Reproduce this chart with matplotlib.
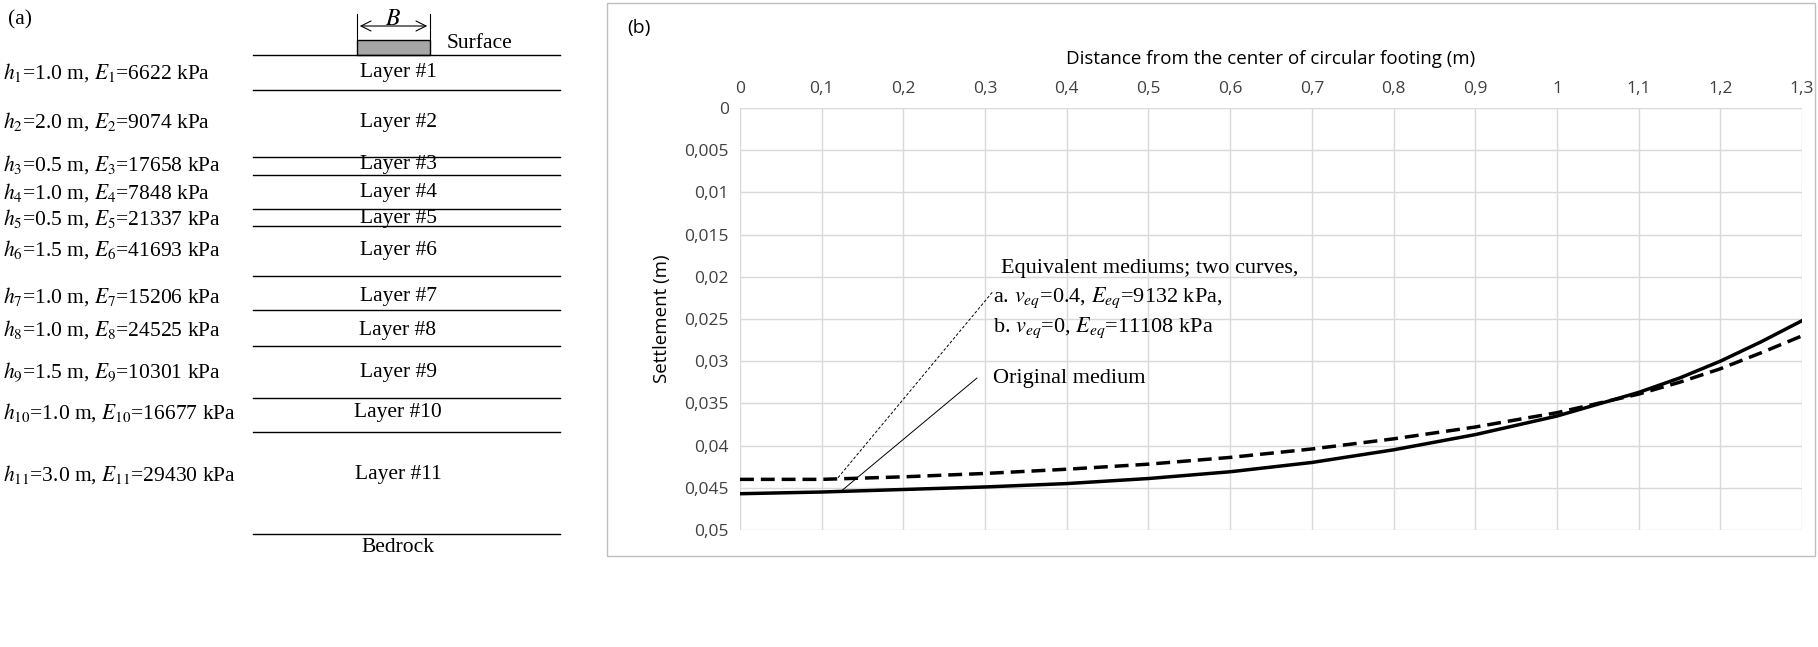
import numpy as np
import matplotlib.pyplot as plt
from matplotlib.patches import Rectangle

plt.rcParams['mathtext.fontset'] = 'stix'

# data for panel (b)
dist = [0, 0.1, 0.2, 0.3, 0.4, 0.5, 0.6, 0.7, 0.8, 0.9, 1.0, 1.1, 1.15, 1.2, 1.25, 1.3]
orig = [0.0457, 0.0455, 0.0452, 0.0449, 0.0445, 0.0439, 0.0431, 0.0420,
        0.0405, 0.0387, 0.0365, 0.0337, 0.0320, 0.0300, 0.0277, 0.0252]
equiv = [0.0440, 0.0440, 0.0437, 0.0433, 0.0428, 0.0422, 0.0414, 0.0404,
         0.0392, 0.0378, 0.0361, 0.0339, 0.0325, 0.0309, 0.0290, 0.0270]
xticks = np.round(np.arange(0, 1.31, 0.1), 1)
yticks = np.round(np.arange(0, 0.0501, 0.005), 3)

# panel (a) layers
layer_h = ['1.0', '2.0', '0.5', '1.0', '0.5', '1.5', '1.0', '1.0', '1.5', '1.0', '3.0']
layer_E = ['6622', '9074', '17658', '7848', '21337', '41693', '15206', '24525',
           '10301', '16677', '29430']
line_y = [90, 157, 175, 209, 226, 276, 310, 346, 398, 432, 534]
text_y = [73, 122, 165, 193, 219, 250, 297, 330, 372, 413, 475]

W, H = 1818, 647
fig = plt.figure(figsize=(W / 100, H / 100), dpi=100)

# ---- panel (a), drawn in pixel coords
axa = fig.add_axes([0, 0, 1, 1])
axa.set_xlim(0, W)
axa.set_ylim(H, 0)
axa.axis('off')
serif = 'Liberation Serif'
fs = 15.5
axa.text(8, 20, '(a)', fontsize=fs, family=serif, va='center')
axa.plot([253, 560], [55, 55], color='black', lw=1)
axa.add_patch(Rectangle((357, 40), 73, 15, facecolor='#a6a6a6', edgecolor='black', lw=1))
axa.plot([357, 357], [14, 40], color='black', lw=0.8)
axa.plot([430, 430], [14, 40], color='black', lw=0.8)
axa.annotate('', xy=(357, 26), xytext=(430, 26),
             arrowprops=dict(arrowstyle='<->', lw=0.8, mutation_scale=18))
axa.text(393, 18, '$B$', fontsize=17, ha='center', va='center')
axa.text(447, 44, 'Surface', fontsize=fs, family=serif, va='center')
for y in line_y:
    axa.plot([253, 560], [y, y], color='black', lw=1)
for i in range(11):
    n = str(i + 1)
    axa.text(3, text_y[i], '$h_{%s}$=%s m, $E_{%s}$=%s kPa' % (n, layer_h[i], n, layer_E[i]),
             fontsize=fs, family=serif, va='center')
    axa.text(398, text_y[i], 'Layer #' + n, fontsize=fs, family=serif,
             ha='center', va='center')
axa.text(398, 548, 'Bedrock', fontsize=fs, family=serif, ha='center', va='center')
axa.add_patch(Rectangle((607, 3), 1208, 553, facecolor='none', edgecolor='#bfbfbf', lw=1))
axa.text(627, 28, '(b)', fontsize=14, family='Open Sans', va='center')

# ---- panel (b)
ax = fig.add_axes([740 / W, 1 - 530 / H, 1062 / W, 422 / H])
ax.plot(dist, orig, color='black', lw=2.5)
ax.plot(dist, equiv, color='black', lw=2.5, ls=(0, (4, 2)))
ax.set_xlim(0, 1.3)
ax.set_ylim(0.05, 0)
ax.set_xticks(xticks)
ax.set_yticks(yticks)
ax.set_xticklabels([('%g' % v).replace('.', ',') for v in xticks])
ax.set_yticklabels([('%g' % v).replace('.', ',') for v in yticks])
ax.xaxis.tick_top()
ax.xaxis.set_label_position('top')
ax.tick_params(length=0, labelsize=12.5, labelcolor='#404040', pad=8)
for t in ax.get_xticklabels() + ax.get_yticklabels():
    t.set_family('Open Sans')
ax.grid(color='#d9d9d9', lw=1)
for s in ax.spines.values():
    s.set_visible(False)
ax.set_xlabel('Distance from the center of circular footing (m)', fontsize=13.5,
              family='Open Sans', labelpad=12)
ax.set_ylabel('Settlement (m)', fontsize=13.5, family='Open Sans', labelpad=10)

ax.plot([0.12, 0.31], [0.0438, 0.0217], color='black', lw=0.7, ls=(0, (3, 2)))
ax.plot([0.125, 0.29], [0.0453, 0.0320], color='black', lw=0.7)
ax.text(0.32, 0.0190, 'Equivalent mediums; two curves,', fontsize=16, family=serif, va='center')
ax.text(0.31, 0.0225, r'a. $v_{eq}$=0.4, $E_{eq}$=9132 kPa,', fontsize=16, family=serif, va='center')
ax.text(0.31, 0.0260, r'b. $v_{eq}$=0, $E_{eq}$=11108 kPa', fontsize=16, family=serif, va='center')
ax.text(0.31, 0.0320, 'Original medium', fontsize=16, family=serif, va='center')

fig.savefig('out.png', dpi=100)
